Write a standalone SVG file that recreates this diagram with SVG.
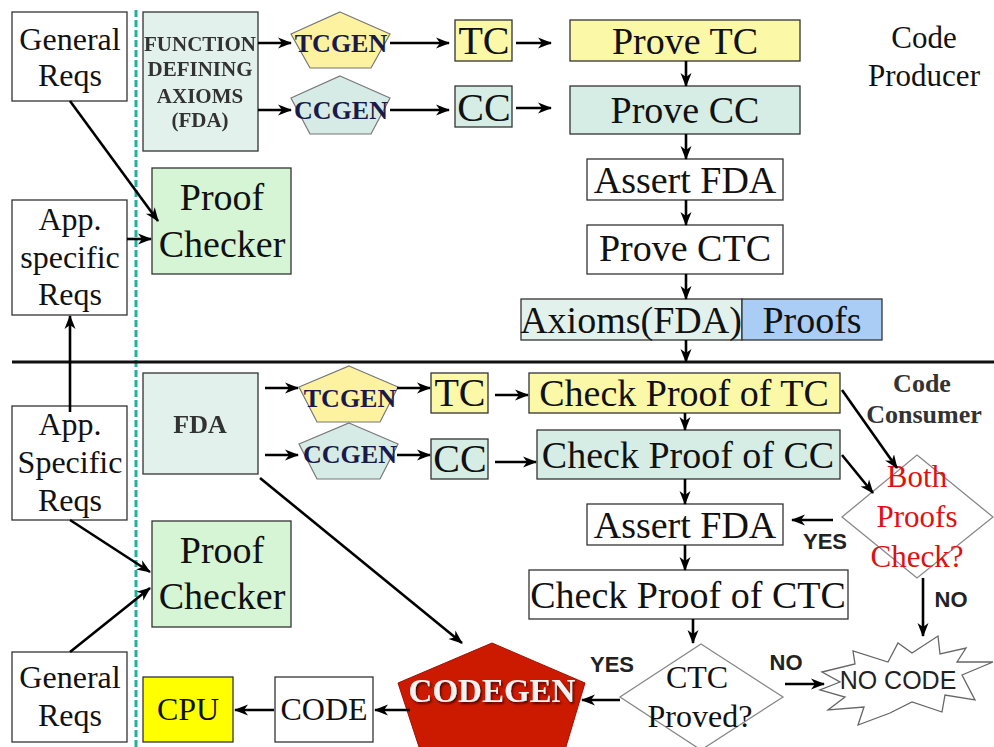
<svg xmlns="http://www.w3.org/2000/svg" width="994" height="747" viewBox="0 0 994 747">
<defs>
<marker id="ah" markerUnits="userSpaceOnUse" markerWidth="15" markerHeight="13" refX="13" refY="6.5" orient="auto">
<path d="M0,1 L14,6.5 L0,12 L4,6.5 Z" fill="#000"/>
</marker>
<filter id="sh" x="-10%" y="-20%" width="120%" height="150%">
<feDropShadow dx="1.5" dy="2" stdDeviation="1.2" flood-color="#400" flood-opacity="0.9"/>
</filter>
<filter id="bl" x="-10%" y="-20%" width="120%" height="150%">
<feGaussianBlur stdDeviation="0.5"/>
</filter>
</defs>
<style>
.box{stroke:#333;stroke-width:1.3}
.w{fill:#fff}
.y{fill:#fbf8a8}
.t{fill:#d6ede6}
.t2{fill:#e2f1ec}
.g{fill:#d5f5d5}
.b{fill:#a9cdf5}
.pen{stroke:#777;stroke-width:1.2}
.dia{fill:#fff;stroke:#888;stroke-width:1.3}
.s{font-family:"Liberation Serif","Times New Roman",serif;fill:#111;text-anchor:middle}
.f32{font-size:32px}
.f38{font-size:38px}
.f40{font-size:40px}
.gen{font-family:"Liberation Serif","Times New Roman",serif;font-weight:bold;font-size:26px;fill:#1a1a4a;text-anchor:middle}
.fda{font-family:"Liberation Serif","Times New Roman",serif;font-weight:bold;fill:#333;text-anchor:middle}
.lab{font-family:"Liberation Sans",Arial,sans-serif;font-weight:bold;font-size:22px;fill:#222;text-anchor:middle}
.red{fill:#e01010}
.c line{stroke:#000;stroke-width:2.6;fill:none;marker-end:url(#ah)}
</style>
<rect width="994" height="747" fill="#fff"/>

<!-- separators -->
<line x1="136" y1="10" x2="136" y2="747" stroke="#1fb39e" stroke-width="3" stroke-dasharray="7,3"/>
<line x1="12" y1="362" x2="994" y2="362" stroke="#111" stroke-width="3"/>

<!-- TOP: producer -->
<g id="gen-reqs-top"><rect class="box w" x="12" y="12" width="115" height="89"/>
<text class="s f32" x="70" y="50">General</text><text class="s f32" x="70" y="86">Reqs</text></g>

<g id="app-reqs-top"><rect class="box w" x="12" y="200" width="115" height="115"/>
<text class="s f32" x="70" y="230">App.</text><text class="s f32" x="70" y="268">specific</text><text class="s f32" x="70" y="305">Reqs</text></g>

<g id="proof-checker-top"><rect class="box g" x="152" y="168" width="139" height="106"/>
<text class="s f38" x="222" y="210">Proof</text><text class="s f38" x="222" y="257">Checker</text></g>

<g id="fda-top"><rect class="box t2" x="143" y="12" width="115" height="139"/>
<g filter="url(#bl)"><text class="fda" font-size="21" x="200" y="51">FUNCTION</text>
<text class="fda" font-size="21" x="200" y="76">DEFINING</text>
<text class="fda" font-size="21" x="200" y="103">AXIOMS</text>
<text class="fda" font-size="21" x="200" y="127">(FDA)</text></g></g>

<g id="tcgen-top"><polygon class="pen" fill="#fcf2a0" points="340,12 390,34 371,68 310,68 291,34"/>
<text class="gen" x="341" y="52">TCGEN</text></g>
<g id="ccgen-top"><polygon class="pen" fill="#d6ebe6" points="340,76 390,98 371,134 310,134 291,98"/>
<text class="gen" x="341" y="119">CCGEN</text></g>

<g id="tc-top"><rect class="box y" x="455" y="20" width="57" height="41"/><text class="s f40" x="484" y="54">TC</text></g>
<g id="cc-top"><rect class="box t" x="455" y="86" width="57" height="41"/><text class="s f40" x="484" y="121">CC</text></g>

<g id="prove-tc"><rect class="box y" x="570" y="20" width="230" height="41"/><text class="s f38" x="685" y="54">Prove TC</text></g>
<g id="prove-cc"><rect class="box t" x="570" y="86" width="230" height="48"/><text class="s f38" x="685" y="123">Prove CC</text></g>
<g id="assert-fda-top"><rect class="box w" x="587" y="159" width="196" height="41"/><text class="s f38" x="685" y="193">Assert FDA</text></g>
<g id="prove-ctc"><rect class="box w" x="587" y="225" width="196" height="49"/><text class="s f38" x="685" y="261">Prove CTC</text></g>
<g id="axioms"><rect class="box t2" x="521" y="299" width="221" height="41"/><text class="s f38" x="631" y="333">Axioms(FDA)</text></g>
<g id="proofs"><rect class="box b" x="742" y="299" width="140" height="41"/><text class="s f38" x="812" y="333">Proofs</text></g>

<g id="code-producer"><text class="s" font-size="31" x="924" y="48">Code</text><text class="s" font-size="31" x="924" y="86">Producer</text></g>

<!-- BOTTOM: consumer -->
<g id="app-reqs-bot"><rect class="box w" x="12" y="406" width="115" height="114"/>
<text class="s f32" x="70" y="435">App.</text><text class="s f32" x="70" y="473">Specific</text><text class="s f32" x="70" y="511">Reqs</text></g>

<g id="gen-reqs-bot"><rect class="box w" x="12" y="652" width="115" height="90"/>
<text class="s f32" x="70" y="688">General</text><text class="s f32" x="70" y="726">Reqs</text></g>

<g id="proof-checker-bot"><rect class="box g" x="152" y="521" width="139" height="106"/>
<text class="s f38" x="222" y="563">Proof</text><text class="s f38" x="222" y="609">Checker</text></g>

<g id="fda-bot"><rect class="box t2" x="143" y="373" width="115" height="101"/>
<text class="fda" font-size="26" x="200" y="433" filter="url(#bl)">FDA</text></g>

<g id="tcgen-bot"><polygon class="pen" fill="#fcf2a0" points="349,366 398,387 380,422 317,422 299,387"/>
<text class="gen" x="350" y="407">TCGEN</text></g>
<g id="ccgen-bot"><polygon class="pen" fill="#d6ebe6" points="349,423 398,444 380,479 317,479 299,444"/>
<text class="gen" x="350" y="463">CCGEN</text></g>

<g id="tc-bot"><rect class="box y" x="431" y="373" width="57" height="40"/><text class="s f40" x="460" y="406">TC</text></g>
<g id="cc-bot"><rect class="box t" x="431" y="439" width="57" height="40"/><text class="s f40" x="460" y="472">CC</text></g>

<g id="check-tc"><rect class="box y" x="529" y="373" width="311" height="40"/><text class="s f38" x="684" y="406">Check Proof of TC</text></g>
<g id="check-cc"><rect class="box t" x="537" y="430" width="303" height="49"/><text class="s f38" x="688" y="468">Check Proof of CC</text></g>
<g id="assert-fda-bot"><rect class="box w" x="587" y="504" width="196" height="41"/><text class="s f38" x="685" y="538">Assert FDA</text></g>
<g id="check-ctc"><rect class="box w" x="529" y="570" width="319" height="49"/><text class="s f38" x="688" y="608">Check Proof of CTC</text></g>

<g id="code-consumer"><text class="fda" font-size="26" x="922" y="392" fill="#111">Code</text><text class="fda" font-size="26" x="924" y="423" fill="#111">Consumer</text></g>

<g id="both-proofs"><polygon class="dia" points="917,455 993,517 917,578 842,517"/>
<text class="s red" font-size="31" x="917" y="487">Both</text><text class="s red" font-size="31" x="917" y="527">Proofs</text><text class="s red" font-size="31" x="917" y="567">Check?</text></g>

<g id="ctc-proved"><polygon class="dia" points="701,644 783,697 701,750 620,697"/>
<text class="s" font-size="32" x="697" y="688">CTC</text><text class="s" font-size="32" x="700" y="727">Proved?</text></g>

<g id="no-code"><polygon fill="#fff" stroke="#666" stroke-width="1.3" points="822,672 855,664 853,651 888,662 898,643 912,653 938,636 940,654 966,648 957,662 993,662 962,675 975,700 945,695 942,712 912,702 890,713 858,725 864,707 828,710 845,697 820,690 840,682"/>
<text x="898" y="689" font-family="Liberation Sans,Arial,sans-serif" font-size="25" fill="#222" text-anchor="middle">NO CODE</text></g>

<g id="codegen"><polygon fill="#cc1a00" stroke="#a01000" stroke-width="1" points="492,643 585,683 565,750 420,750 398,683"/>
<text x="492" y="702" font-family="Liberation Serif,Times New Roman,serif" font-weight="bold" font-size="33" fill="#f2f2f2" text-anchor="middle" filter="url(#sh)">CODEGEN</text></g>

<g id="code"><rect class="box w" x="275" y="677" width="98" height="65"/><text class="s f32" x="324" y="720">CODE</text></g>
<g id="cpu"><rect class="box" fill="#ffff00" x="143" y="677" width="90" height="65"/><text class="s f32" x="188" y="720">CPU</text></g>

<!-- labels -->
<g id="labels">
<text class="lab" x="825" y="549">YES</text>
<text class="lab" x="951" y="607">NO</text>
<text class="lab" x="612" y="672">YES</text>
<text class="lab" x="786" y="670">NO</text>
</g>

<!-- connectors -->
<g id="connectors" class="c">
<line x1="70" y1="101" x2="158" y2="221"/>
<line x1="127" y1="239" x2="151" y2="239"/>
<line x1="258" y1="43" x2="291" y2="43"/>
<line x1="258" y1="110" x2="291" y2="110"/>
<line x1="390" y1="43" x2="449" y2="43"/>
<line x1="390" y1="110" x2="449" y2="110"/>
<line x1="516" y1="43" x2="551" y2="43"/>
<line x1="516" y1="108" x2="551" y2="108"/>
<line x1="686" y1="61" x2="686" y2="86"/>
<line x1="686" y1="134" x2="686" y2="159"/>
<line x1="686" y1="200" x2="686" y2="225"/>
<line x1="686" y1="274" x2="686" y2="299"/>
<line x1="686" y1="340" x2="686" y2="362"/>
<line x1="70" y1="412" x2="70" y2="316"/>
<line x1="265" y1="388" x2="298" y2="388"/>
<line x1="265" y1="455" x2="298" y2="455"/>
<line x1="397" y1="388" x2="430" y2="388"/>
<line x1="397" y1="455" x2="430" y2="455"/>
<line x1="495" y1="395" x2="528" y2="395"/>
<line x1="495" y1="462" x2="536" y2="462"/>
<line x1="685" y1="413" x2="685" y2="430"/>
<line x1="685" y1="479" x2="685" y2="504"/>
<line x1="685" y1="545" x2="685" y2="570"/>
<line x1="693" y1="619" x2="693" y2="643"/>
<line x1="842" y1="390" x2="897" y2="468"/>
<line x1="842" y1="455" x2="873" y2="493"/>
<line x1="833" y1="520" x2="792" y2="520"/>
<line x1="923" y1="578" x2="923" y2="636"/>
<line x1="620" y1="700" x2="582" y2="700"/>
<line x1="785" y1="684" x2="824" y2="684"/>
<line x1="410" y1="710" x2="375" y2="710"/>
<line x1="274" y1="710" x2="235" y2="710"/>
<line x1="260" y1="478" x2="462" y2="643"/>
<line x1="70" y1="520" x2="150" y2="572"/>
<line x1="70" y1="652" x2="150" y2="588"/>
</g>
</svg>
